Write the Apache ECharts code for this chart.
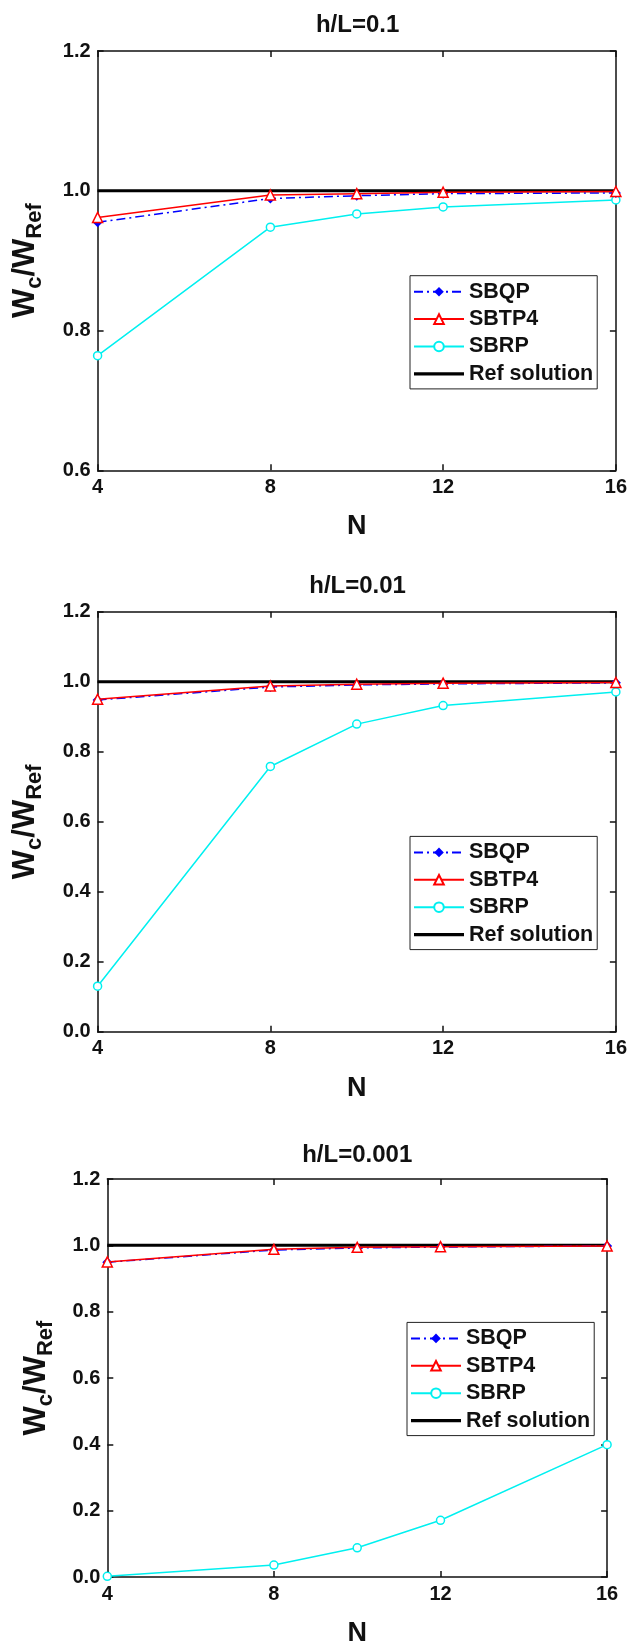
<!DOCTYPE html>
<html>
<head>
<meta charset="utf-8">
<script src="https://cdn.jsdelivr.net/npm/echarts@6/dist/echarts.min.js"></script>
<style>
  html, body { margin: 0; padding: 0; background: #fff; }
  #chart { width: 630px; height: 1648px; }
</style>
</head>
<body>
<div id="chart"></div>
<script>
// x values (number of elements N)
var nValues = [4, 8, 10, 12, 16];
var xTicks = { min: 4, max: 16, interval: 4 };

// h/L = 0.1
var sbqp1 = [0.955, 0.989, 0.993, 0.996, 0.997];
var sbtp1 = [0.962, 0.994, 0.996, 0.998, 0.999];
var sbrp1 = [0.764, 0.948, 0.967, 0.977, 0.987];
// h/L = 0.01
var sbqp2 = [0.948, 0.985, 0.991, 0.994, 0.997];
var sbtp2 = [0.950, 0.988, 0.993, 0.996, 0.998];
var sbrp2 = [0.130, 0.758, 0.879, 0.932, 0.971];
// h/L = 0.001
var sbqp3 = [0.949, 0.986, 0.992, 0.995, 0.998];
var sbtp3 = [0.950, 0.988, 0.994, 0.996, 0.998];
var sbrp3 = [0.002, 0.036, 0.088, 0.171, 0.399];
// reference solution
var refSol = [1, 1, 1, 1, 1];

var titles = ['h/L=0.1', 'h/L=0.01', 'h/L=0.001'];
var yRanges = [[0.6, 1.2], [0, 1.2], [0, 1.2]];

var FONT = '"Liberation Sans", Arial, sans-serif';

// plain thick line for the reference entry of the legend (no marker)
var legendNames = ['SBQP', 'SBTP4', 'SBRP',
    { name: 'Ref solution', icon: 'path://M0,0H50V3.2H0Z' }];

var panels = [
    { grid: { left: 97.6, top: 51.1, width: 520, height: 419.2 }, titleTop: 13, yNameGap: 52,
      legend: { left: 410, top: 275.7 }, data: [sbqp1, sbtp1, sbrp1] },
    { grid: { left: 97.6, top: 611.8, width: 520, height: 419.9 }, titleTop: 574, yNameGap: 52,
      legend: { left: 410, top: 836.4 }, data: [sbqp2, sbtp2, sbrp2] },
    { grid: { left: 107.3, top: 1179, width: 499.8, height: 403.2 }, titleTop: 1143, yNameGap: 50,
      legend: { left: 407, top: 1322.4 }, data: [sbqp3, sbtp3, sbrp3] }
];

function pairs(ys) {
    return ys.map(function(y, i) { return [nValues[i], y]; });
}

var axisLine = { show: true, onZero: false, lineStyle: { color: '#111', width: 1.5 } };
var tick = { show: true, inside: true, length: 6, lineStyle: { color: '#111', width: 1.5 } };

var option = {
    backgroundColor: '#fff',
    animation: false,
    title: [],
    legend: [],
    grid: [],
    xAxis: [],
    yAxis: [],
    series: []
};

panels.forEach(function(p, k) {
    var cx = p.grid.left + p.grid.width / 2;
    option.title.push({
        text: titles[k],
        left: cx,
        top: p.titleTop,
        textAlign: 'center',
        padding: 0,
        textStyle: { fontFamily: FONT, fontSize: 24, fontWeight: 'bold', color: '#111' }
    });
    option.legend.push({
        data: legendNames,
        orient: 'vertical',
        left: p.legend.left,
        top: p.legend.top,
        padding: [5, 4, 4, 3],
        itemGap: 5.4,
        itemWidth: 50,
        itemHeight: 12,
        borderColor: '#222',
        borderWidth: 1,
        backgroundColor: '#fff',
        selectedMode: false,
        textStyle: { fontFamily: FONT, fontSize: 21.5, fontWeight: 'bold', color: '#111', lineHeight: 22 }
    });
    option.grid.push(Object.assign({ containLabel: false }, p.grid));

    // bottom and top x axes
    option.xAxis.push({
        type: 'value', gridIndex: k, position: 'bottom',
        min: xTicks.min, max: xTicks.max, interval: xTicks.interval,
        axisLine: axisLine, axisTick: tick, splitLine: { show: false },
        axisLabel: { margin: 7, fontFamily: FONT, fontSize: 20, fontWeight: 'bold', color: '#111' },
        name: 'N', nameLocation: 'middle', nameGap: 43,
        nameTextStyle: { fontFamily: FONT, fontSize: 27, fontWeight: 'bold', color: '#111' }
    });
    option.xAxis.push({
        type: 'value', gridIndex: k, position: 'top',
        min: xTicks.min, max: xTicks.max, interval: xTicks.interval,
        axisLine: axisLine, axisTick: tick, splitLine: { show: false },
        axisLabel: { show: false }
    });
    // left and right y axes
    option.yAxis.push({
        type: 'value', gridIndex: k, position: 'left',
        min: yRanges[k][0], max: yRanges[k][1], interval: 0.2,
        axisLine: axisLine, axisTick: tick, splitLine: { show: false },
        axisLabel: {
            margin: 7, fontFamily: FONT, fontSize: 20, fontWeight: 'bold', color: '#111',
            formatter: function(v) { return v.toFixed(1); }
        },
        name: '{w|W}{s|c}{w|/W}{s|Ref}',
        nameLocation: 'middle', nameRotate: 90, nameGap: p.yNameGap,
        nameTextStyle: {
            rich: {
                w: { fontFamily: FONT, fontSize: 31, fontWeight: 'bold', color: '#111', verticalAlign: 'bottom', padding: [0, 0, 5, 0] },
                s: { fontFamily: FONT, fontSize: 22, fontWeight: 'bold', color: '#111', verticalAlign: 'bottom' }
            }
        }
    });
    option.yAxis.push({
        type: 'value', gridIndex: k, position: 'right',
        min: yRanges[k][0], max: yRanges[k][1], interval: 0.2,
        axisLine: axisLine, axisTick: tick, splitLine: { show: false },
        axisLabel: { show: false }
    });

    var xi = k * 2, yi = k * 2;
    option.series.push({
        name: 'Ref solution', type: 'line', xAxisIndex: xi, yAxisIndex: yi,
        data: pairs(refSol), symbol: 'none', z: 1,
        lineStyle: { color: '#000', width: 3 }, itemStyle: { color: '#000' }
    });
    option.series.push({
        name: 'SBRP', type: 'line', xAxisIndex: xi, yAxisIndex: yi,
        data: pairs(p.data[2]), symbol: 'circle', symbolSize: 8, z: 2,
        lineStyle: { color: '#00f0f0', width: 1.5 },
        itemStyle: { color: '#fff', borderColor: '#00f0f0', borderWidth: 1.5 }
    });
    option.series.push({
        name: 'SBQP', type: 'line', xAxisIndex: xi, yAxisIndex: yi,
        data: pairs(p.data[0]), symbol: 'diamond', symbolSize: 10, z: 3,
        lineStyle: { color: '#0000ff', width: 1.5, type: [9, 4, 2, 4] },
        itemStyle: { color: '#0000ff' }
    });
    option.series.push({
        name: 'SBTP4', type: 'line', xAxisIndex: xi, yAxisIndex: yi,
        data: pairs(p.data[1]), symbol: 'triangle', symbolSize: 10, z: 4,
        lineStyle: { color: '#ff0000', width: 1.5 },
        itemStyle: { color: '#fff', borderColor: '#ff0000', borderWidth: 1.5 }
    });
});

var chart = echarts.init(document.getElementById('chart'), null, { renderer: 'canvas' });
chart.setOption(option);
</script>
</body>
</html>
